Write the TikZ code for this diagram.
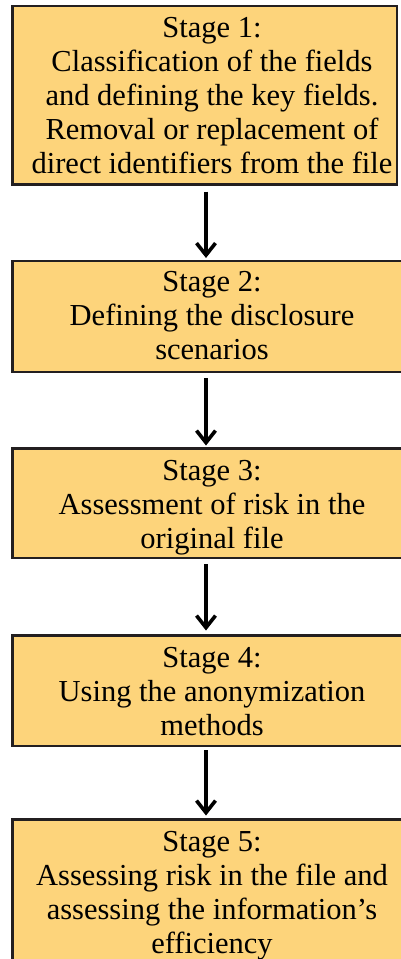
\documentclass[tikz,border=0pt]{standalone}
\usepackage{fontspec}
\setmainfont{Liberation Serif}
\usetikzlibrary{arrows.meta}
\definecolor{boxfill}{HTML}{FDD47B}
\definecolor{boxline}{HTML}{231F20}
\tikzset{
  stagebox/.style={draw=boxline, fill=boxfill, line width=2.6pt, rectangle, inner sep=0pt, outer sep=0pt},
  stagetext/.style={anchor=base, inner sep=0pt, font=\fontsize{30.5}{34}\selectfont},
  flowarrow/.style={line width=3.6pt, -{Straight Barb[length=12pt,width=19pt]}},
}
\begin{document}
\begin{tikzpicture}[x=1pt,y=-1pt]
\useasboundingbox (0,0) rectangle (401,959);
\clip (0,0) rectangle (401,959);
\fill[white] (0,0) rectangle (401,959);
\coordinate (ax) at (206,0);
% boxes
\node[stagebox, minimum width=384.5pt, minimum height=178.5pt] (s1) at (204.75,95.25) {};
\node[stagebox, minimum width=402.5pt, minimum height=111pt] (s2) at (213.75,316.5) {};
\node[stagebox, minimum width=402.5pt, minimum height=109.5pt] (s3) at (213.75,503.25) {};
\node[stagebox, minimum width=402.5pt, minimum height=110.5pt] (s4) at (213.75,690.75) {};
\node[stagebox, minimum width=402.5pt, minimum height=170.5pt] (s5) at (213.75,904.75) {};
% texts
\node[stagetext] (t1) at (212,37) {\begin{tabular}[t]{@{}c@{}}Stage 1:\\Classification of the fields\\and defining the key fields.\\Removal or replacement of\\direct identifiers from the file\end{tabular}};
\node[stagetext] (t2) at (212,291.7) {\begin{tabular}[t]{@{}c@{}}Stage 2:\\Defining the disclosure\\scenarios\end{tabular}};
\node[stagetext] (t3) at (212,480) {\begin{tabular}[t]{@{}c@{}}Stage 3:\\Assessment of risk in the\\original file\end{tabular}};
\node[stagetext] (t4) at (212,667) {\begin{tabular}[t]{@{}c@{}}Stage 4:\\Using the anonymization\\methods\end{tabular}};
\node[stagetext] (t5) at (212,851.7) {\begin{tabular}[t]{@{}c@{}}Stage 5:\\Assessing risk in the file and\\assessing the information’s\\efficiency\end{tabular}};
% arrows
\draw[flowarrow, shorten <=7pt, shorten >=3pt] (s1.south -| ax) -- (s2.north -| ax);
\draw[flowarrow, shorten <=6pt, shorten >=3pt] (s2.south -| ax) -- (s3.north -| ax);
\draw[flowarrow, shorten <=6pt, shorten >=5pt] (s3.south -| ax) -- (s4.north -| ax);
\draw[flowarrow, shorten <=4pt, shorten >=4pt] (s4.south -| ax) -- (s5.north -| ax);
\end{tikzpicture}
\end{document}
